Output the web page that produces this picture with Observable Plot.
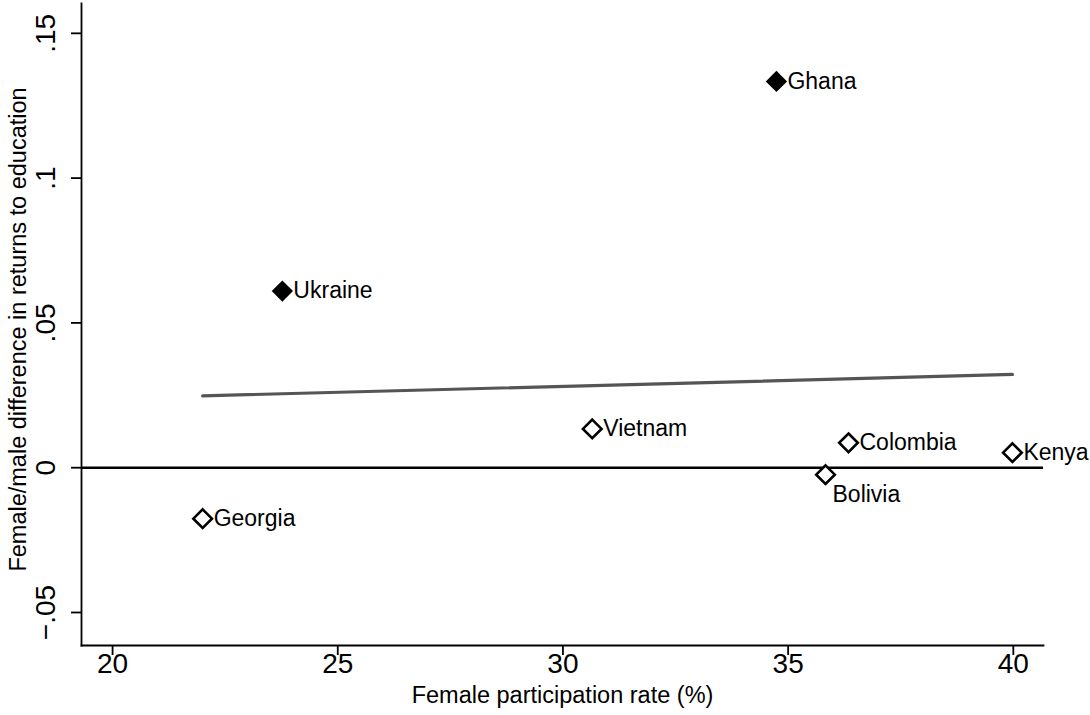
<!DOCTYPE html>
<html>
<head>
<meta charset="utf-8">
<script src="https://cdn.jsdelivr.net/npm/d3@7"></script>
<script src="https://cdn.jsdelivr.net/npm/@observablehq/plot@0.6"></script>
<style>
  html, body { margin: 0; padding: 0; background: #fff; }
  #chart svg { display: block; }
</style>
</head>
<body>
<div id="chart"></div>
<script>
// ---- data ----
const countries     = ["Georgia", "Ukraine", "Vietnam", "Ghana", "Bolivia", "Colombia", "Kenya"];
const participation = [22.0, 23.77, 30.65, 34.74, 35.83, 36.34, 39.98];
const returnsDiff   = [-0.0176, 0.0610, 0.0134, 0.1334, -0.0024, 0.0086, 0.0052];
const filledMarker  = [false, true, false, true, false, false, false];
const labelBelow    = [false, false, false, false, true, false, false];

const fitX = [22.0, 39.98];
const fitY = [0.0248, 0.0322];

const xTicks = [20, 25, 30, 35, 40];
const yTicks = [-0.05, 0, 0.05, 0.10, 0.15];
const yTickLabels = ["\u2212.05", "0", ".05", ".1", ".15"];

const xTitle = "Female participation rate (%)";
const yTitle = "Female/male difference in returns to education";

// ---- tables built from the arrays ----
const points = countries.map((c, i) => ({
  country: c, x: participation[i], y: returnsDiff[i],
  filled: filledMarker[i], below: labelBelow[i]
}));
const fit = fitX.map((x, i) => ({x, y: fitY[i]}));
const yTickRows = yTicks.map((v, i) => ({v, label: yTickLabels[i]}));

const font = "'Liberation Sans', Arial, Helvetica, sans-serif";

const chart = Plot.plot({
  width: 1090,
  height: 715,
  marginLeft: 81,
  marginRight: 47,
  marginTop: 3,
  marginBottom: 70,
  style: {fontFamily: font, background: "#fff", color: "#000", overflow: "visible"},
  x: {domain: [19.31, 40.67], axis: null},
  y: {domain: [-0.0614, 0.1603], axis: null},
  marks: [
    // frame lines (left and bottom)
    Plot.frame({anchor: "left", stroke: "#000", strokeWidth: 1.8}),
    Plot.frame({anchor: "bottom", stroke: "#000", strokeWidth: 1.8}),
    // x ticks
    Plot.axisX({ticks: xTicks, tickSize: 10, strokeWidth: 1.8, tickFormat: () => "", label: null}),
    Plot.text(xTicks, {x: d => d, frameAnchor: "bottom", dy: 27, text: d => String(d), fontSize: 28, fill: "#000"}),
    // y ticks
    Plot.axisY({ticks: yTicks, tickSize: 10, strokeWidth: 1.8, tickFormat: () => "", label: null}),
    Plot.text(yTickRows, {y: "v", text: "label", frameAnchor: "left", textAnchor: "middle", dx: -35, rotate: -90, fontSize: 28, fill: "#000"}),
    // axis titles
    Plot.text([xTitle], {frameAnchor: "bottom", dy: 57, fontSize: 23.5, fill: "#000"}),
    Plot.text([yTitle], {frameAnchor: "left", textAnchor: "middle", dx: -63, dy: 5, rotate: -90, fontSize: 23.5, fill: "#000"}),
    // zero line
    Plot.ruleY([0], {stroke: "#000", strokeWidth: 2.6}),
    // fitted line
    Plot.line(fit, {x: "x", y: "y", stroke: "#555", strokeWidth: 3.2}),
    // markers
    Plot.dot(points.filter(d => d.filled), {x: "x", y: "y", symbol: "diamond2", r: 9.6, fill: "#000", stroke: "none"}),
    Plot.dot(points.filter(d => !d.filled), {x: "x", y: "y", symbol: "diamond2", r: 8.4, fill: "#fff", stroke: "#000", strokeWidth: 2.6}),
    // labels
    Plot.text(points.filter(d => !d.below), {x: "x", y: "y", text: "country", textAnchor: "start", dx: 11, fontSize: 23, fill: "#000"}),
    Plot.text(points.filter(d => d.below), {x: "x", y: "y", text: "country", textAnchor: "start", dx: 7, dy: 20, fontSize: 23, fill: "#000"})
  ]
});

document.getElementById("chart").appendChild(chart);
</script>
</body>
</html>
